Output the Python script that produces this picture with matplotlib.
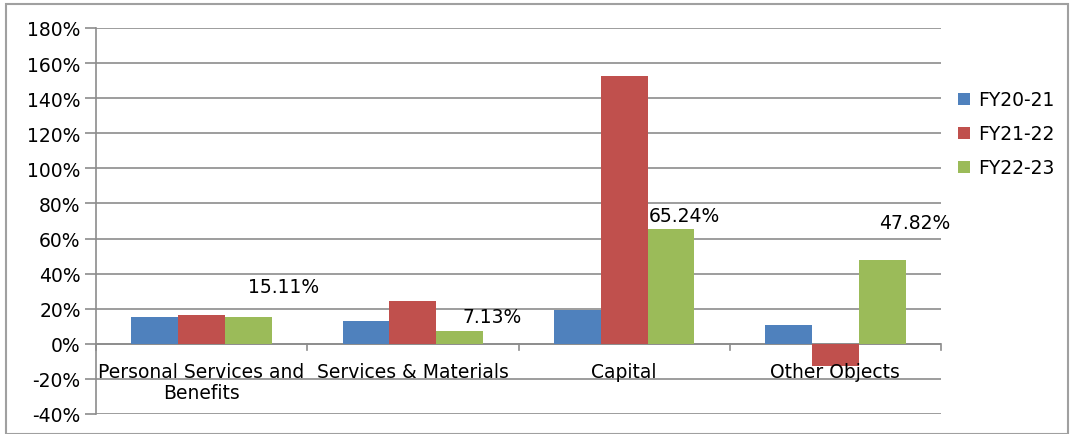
import matplotlib.pyplot as plt
from matplotlib.patches import Rectangle
import numpy as np

categories = ["Personal Services and\nBenefits", "Services & Materials", "Capital", "Other Objects"]
series_names = ["FY20-21", "FY21-22", "FY22-23"]
fy2021 = [15.2, 12.9, 19.0, 10.8]
fy2122 = [16.5, 24.3, 152.8, -12.5]
fy2223 = [15.11, 7.13, 65.24, 47.82]
label_text = ["15.11%", "7.13%", "65.24%", "47.82%"]
# where Excel left the data labels (x offset from category centre, y in %)
label_x = [0.22, 1.235, 2.116, 3.206]
label_y = [32.5, 15.4, 73.0, 69.0]

colors = ["#4F81BD", "#C0504D", "#9BBB59"]
grid_col = "#8c8c8c"
fs = 13.5

plt.rcParams['font.family'] = ['DejaVu Sans']

fig = plt.figure(figsize=(10.76, 4.35), dpi=100)
ax = fig.add_axes([96/1076, 1 - 415/435, (941 - 96)/1076, (415 - 29)/435])

x = np.arange(len(categories))
w = 0.222
for k, vals in enumerate([fy2021, fy2122, fy2223]):
    ax.bar(x + (k - 1) * w, vals, width=w, color=colors[k], label=series_names[k], zorder=3)

ax.set_xlim(-0.5, len(categories) - 0.5)
ax.set_ylim(-40, 180)
ax.set_yticks(range(-40, 181, 20))
ax.set_yticklabels([f"{v}%" for v in range(-40, 181, 20)], fontsize=fs)
ax.tick_params(axis='y', length=8, width=1.2, color=grid_col, pad=3)
ax.yaxis.grid(True, color=grid_col, linewidth=1.2, zorder=0)
ax.set_xticks([])
for s in ['top', 'right', 'bottom']:
    ax.spines[s].set_visible(False)
ax.spines['left'].set_color(grid_col)
ax.spines['left'].set_linewidth(1.2)

# category axis at zero with boundary ticks
ax.axhline(0, color=grid_col, linewidth=1.2, zorder=2)
for b in np.arange(-0.5, len(categories), 1.0):
    ax.plot([b, b], [0, -3.6], color=grid_col, linewidth=1.2, clip_on=False, zorder=2)

for i, c in enumerate(categories):
    ax.annotate(c, xy=(i, 0), xytext=(0, -13), textcoords='offset points',
                ha='center', va='top', fontsize=fs, multialignment='center',
                linespacing=1.15, zorder=5)

for i, t in enumerate(label_text):
    ax.text(label_x[i], label_y[i], t, ha='left', va='center', fontsize=fs, zorder=5)

leg = fig.legend(loc='center left', bbox_to_anchor=(958/1076, 1 - 135/435), frameon=False,
                 fontsize=fs, handlelength=0.65, handleheight=0.65, handletextpad=0.4,
                 labelspacing=0.8, borderpad=0, borderaxespad=0)

fig.patches.append(Rectangle((6/1076, 0), 1062/1076, 1 - 5/435, transform=fig.transFigure,
                             fill=False, edgecolor='#a0a0a0', linewidth=1.5))

fig.savefig("out.png", dpi=100)
